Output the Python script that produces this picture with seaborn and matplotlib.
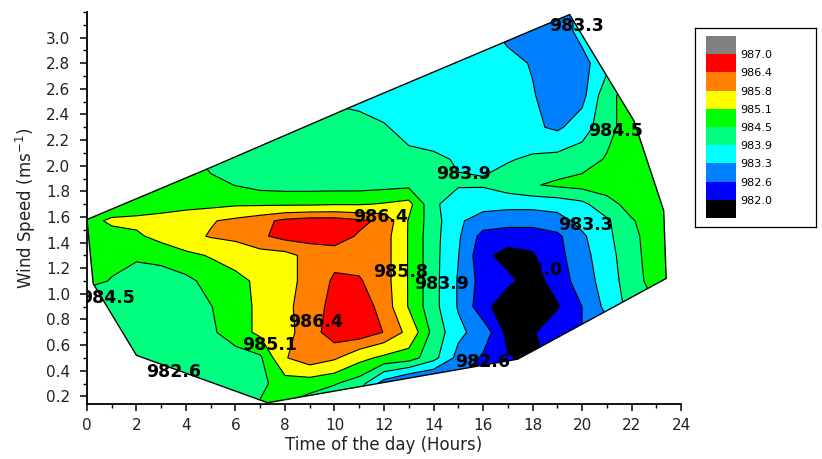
import numpy as np
import matplotlib
matplotlib.use("Agg")
import matplotlib.pyplot as plt
from matplotlib.colors import ListedColormap, BoundaryNorm
from matplotlib.patches import Polygon
from matplotlib.cm import ScalarMappable
from matplotlib.ticker import MultipleLocator
import seaborn as sns

# ---------------- data ----------------
hours = [0, 1, 2, 3, 4, 5, 6, 7, 8, 9, 10, 11, 12, 13, 14, 15, 16, 17, 18, 19, 20, 21, 22, 23, 24]
wind_rows = [0.1, 0.3, 0.5, 0.7, 0.9, 1.1, 1.3, 1.45, 1.57, 1.7, 1.85, 2.05, 2.3, 2.55, 2.8, 3.05, 3.3]

# pressure (hPa) along each wind-speed row, one value per hour
p_w010 = [984.2, 984.2, 984.2, 984.2, 984.2, 984.2, 984.3, 984.6, 984.4, 984.1, 983.8, 983.3, 982.9, 982.7, 982.6, 982.6, 982.6, 982.6, 982.6, 982.6, 982.6, 982.6, 982.6, 982.6, 982.6]
p_w030 = [984.2, 984.2, 984.2, 984.2, 984.2, 984.2, 984.2, 984.35, 984.8, 984.75, 984.55, 984.2, 983.0, 982.4, 982.3, 982.5, 982.3, 982.1, 982.0, 982.2, 982.6, 982.6, 982.6, 982.6, 982.6]
p_w050 = [984.2, 984.2, 984.2, 984.2, 984.2, 984.2, 984.25, 984.4, 985.75, 986.2, 985.9, 985.3, 984.95, 984.8, 984.1, 983.1, 982.5, 982.05, 981.85, 982.2, 982.5, 983.0, 983.5, 984.0, 984.5]
p_w070 = [984.2, 984.2, 984.2, 984.2, 984.25, 984.4, 984.8, 985.25, 985.6, 986.1, 986.75, 986.8, 986.38, 985.6, 984.3, 983.45, 983.0, 981.8, 981.95, 982.3, 982.6, 983.0, 983.5, 984.0, 984.5]
p_w090 = [984.2, 984.2, 984.2, 984.2, 984.25, 984.48, 984.8, 985.25, 985.65, 986.1, 986.6, 986.7, 986.2, 985.05, 984.1, 983.25, 982.15, 981.7, 981.7, 981.95, 982.6, 983.5, 984.1, 984.5, 984.8]
p_w110 = [984.6, 984.48, 984.2, 984.2, 984.35, 984.7, 984.9, 985.25, 985.65, 985.95, 986.5, 986.45, 986.1, 985.05, 984.1, 983.25, 982.3, 982.1, 981.8, 982.2, 982.95, 983.6, 984.2, 984.8, 984.8]
p_w130 = [984.75, 984.6, 984.6, 984.7, 984.95, 985.15, 985.4, 985.55, 985.6, 986.0, 986.2, 986.2, 986.1, 985.05, 984.1, 983.32, 982.1, 981.85, 981.95, 982.35, 983.1, 983.65, 984.3, 984.8, 984.8]
p_w145 = [984.85, 984.9, 985.0, 985.3, 985.6, 985.85, 985.95, 986.3, 986.6, 986.65, 986.6, 986.35, 986.1, 985.05, 984.1, 983.4, 982.35, 982.2, 982.2, 982.45, 983.2, 983.75, 984.35, 984.8, 984.8]
p_w157 = [984.9, 985.2, 985.25, 985.35, 985.55, 985.75, 985.95, 986.2, 986.55, 986.7, 986.7, 986.5, 986.3, 985.05, 984.15, 983.4, 983.0, 982.9, 982.9, 983.05, 983.5, 983.8, 984.45, 984.8, 984.8]
p_w170 = [984.7, 984.7, 984.75, 984.8, 984.85, 984.9, 985.0, 985.0, 985.0, 985.0, 985.05, 985.05, 985.15, 985.3, 984.0, 983.6, 983.55, 983.5, 983.5, 983.55, 983.75, 984.3, 984.7, 984.8, 984.8]
p_w185 = [984.8, 984.8, 984.8, 984.8, 984.8, 984.7, 984.48, 984.3, 984.25, 984.25, 984.25, 984.25, 984.3, 984.35, 984.1, 983.95, 983.95, 984.2, 984.45, 984.6, 984.7, 984.75, 984.8, 984.8, 984.8]
p_w205 = [984.8, 984.8, 984.8, 984.8, 984.8, 984.25, 984.2, 984.2, 984.2, 984.2, 984.15, 984.1, 984.1, 984.05, 984.0, 983.85, 983.8, 983.85, 984.0, 984.1, 984.25, 984.55, 984.8, 984.8, 984.8]
p_w230 = [984.2, 984.2, 984.2, 984.2, 984.2, 984.2, 984.2, 984.2, 984.2, 984.2, 984.1, 984.0, 983.95, 983.7, 983.6, 983.6, 983.55, 983.5, 983.4, 983.2, 983.6, 984.3, 984.8, 984.8, 984.8]
p_w255 = [984.2, 984.2, 984.2, 984.2, 984.2, 984.2, 984.2, 984.2, 984.2, 984.2, 983.8, 983.8, 983.6, 983.6, 983.6, 983.6, 983.6, 983.6, 983.35, 982.95, 983.1, 984.3, 984.8, 984.8, 984.8]
p_w280 = [983.6, 983.6, 983.6, 983.6, 983.6, 983.6, 983.6, 983.6, 983.6, 983.6, 983.6, 983.6, 983.6, 983.6, 983.6, 983.6, 983.55, 983.5, 983.25, 982.9, 983.1, 983.7, 984.2, 984.6, 984.8]
p_w305 = [983.6, 983.6, 983.6, 983.6, 983.6, 983.6, 983.6, 983.6, 983.6, 983.6, 983.6, 983.6, 983.6, 983.6, 983.6, 983.6, 983.5, 983.1, 982.9, 982.95, 983.5, 983.9, 984.3, 984.6, 984.8]
p_w330 = [983.6, 983.6, 983.6, 983.6, 983.6, 983.6, 983.6, 983.6, 983.6, 983.6, 983.6, 983.6, 983.6, 983.6, 983.6, 983.6, 983.5, 983.1, 982.9, 982.95, 983.5, 983.9, 984.3, 984.6, 984.8]

# outline of the measured domain (hour, wind speed)
hull_hours = [0.0, 4.8, 10.8, 19.5, 22.1, 23.3, 23.4, 17.4, 7.3, 2.0, 0.25]
hull_wind = [1.58, 1.97, 2.47, 3.18, 2.35, 1.65, 1.12, 0.49, 0.15, 0.52, 1.08]

# contour levels and colours
level_bounds = [980.0, 982.0, 982.6, 983.3, 983.9, 984.5, 985.1, 985.8, 986.4, 987.0, 988.0]
level_colors = ["#000000", "#0000FF", "#0080FF", "#00FFFF", "#00FF80",
                "#00FF00", "#FFFF00", "#FF8000", "#FF0000", "#808080"]
legend_bounds = [981.4, 982.0, 982.6, 983.3, 983.9, 984.5, 985.1, 985.8, 986.4, 987.0, 987.6]
legend_ticks = [982.0, 982.6, 983.3, 983.9, 984.5, 985.1, 985.8, 986.4, 987.0]

# contour value labels shown on the map
label_texts = ["983.3", "984.5", "983.9", "986.4", "983.3", "985.8", "982.0",
               "983.9", "984.5", "986.4", "985.1", "982.6", "982.6"]

# ---------------- layout ----------------
label_xy = [(19.76, 3.09), (21.36, 2.27), (15.21, 1.935), (11.87, 1.60), (20.15, 1.535),
            (12.67, 1.17), (18.1, 1.185), (14.33, 1.08), (0.83, 0.97), (9.25, 0.78),
            (7.39, 0.60), (15.98, 0.47), (3.52, 0.39)]

sns.set_theme(style="ticks")
plt.rcParams["font.family"] = ["DejaVu Sans"]

fig = plt.figure(figsize=(8.22, 4.59), dpi=100)
fig.patch.set_facecolor("white")
ax = fig.add_axes([0.1058, 0.1198, 0.7227, 0.8541])
ax.set_facecolor("white")

Z = np.array([p_w010, p_w030, p_w050, p_w070, p_w090, p_w110, p_w130, p_w145, p_w157,
              p_w170, p_w185, p_w205, p_w230, p_w255, p_w280, p_w305, p_w330])
X, Y = np.meshgrid(hours, wind_rows)

hull = Polygon(np.column_stack([hull_hours, hull_wind]), closed=True,
               facecolor="none", edgecolor="black", lw=1.0, zorder=4)
ax.add_patch(hull)

cf = ax.contourf(X, Y, Z, levels=level_bounds, colors=level_colors, zorder=1, antialiased=True)
cf.set_clip_path(hull)
cl = ax.contour(X, Y, Z, levels=level_bounds[1:-1], colors="black", linewidths=0.8, zorder=2)
cl.set_clip_path(hull)

for txt, (hx, wy) in zip(label_texts, label_xy):
    ax.text(hx, wy, txt, ha="center", va="center", fontsize=12.5, fontweight="bold",
            color="black", zorder=5, clip_on=True)

ax.set_xlim(0, 24)
ax.set_ylim(0.14, 3.2)
ax.xaxis.set_major_locator(MultipleLocator(2))
ax.xaxis.set_minor_locator(MultipleLocator(1))
ax.set_yticks(np.arange(0.2, 3.01, 0.2))
ax.yaxis.set_minor_locator(MultipleLocator(0.1))
ax.set_yticklabels([f"{v:.1f}" for v in np.arange(0.2, 3.01, 0.2)])
sns.despine(ax=ax)
for s in ["left", "bottom"]:
    ax.spines[s].set_color("black")
    ax.spines[s].set_linewidth(1.3)
ax.tick_params(axis="both", which="major", direction="out", length=5, width=1.1,
               color="black", labelsize=11, labelcolor="#222222")
ax.tick_params(axis="both", which="minor", direction="out", length=3, width=1.0, color="black")
ax.tick_params(axis="x", which="major", pad=5)
ax.tick_params(axis="y", which="major", pad=7)
ax.set_xlabel("Time of the day (Hours)", fontsize=12, color="#222222", labelpad=2)
ax.set_ylabel("Wind Speed (ms$^{-1}$)", fontsize=12, color="#222222", labelpad=6)

# legend box
frame_ax = fig.add_axes([0.8455, 0.5054, 0.1472, 0.4336])
frame_ax.set_xticks([])
frame_ax.set_yticks([])
frame_ax.set_facecolor("white")
for s in frame_ax.spines.values():
    s.set_visible(True)
    s.set_color("black")
    s.set_linewidth(0.9)

cax = fig.add_axes([0.8589, 0.525, 0.0365, 0.3965])
cmap = ListedColormap(level_colors)
norm = BoundaryNorm(legend_bounds, cmap.N)
cb = fig.colorbar(ScalarMappable(norm=norm, cmap=cmap), cax=cax, boundaries=legend_bounds,
                  spacing="uniform", ticks=legend_ticks)
cb.outline.set_visible(False)
cb.ax.minorticks_off()
cb.ax.tick_params(which="both", length=0, pad=3, labelsize=8, labelcolor="black")
cb.ax.set_yticklabels([f"{v:.1f}" for v in legend_ticks])

fig.savefig("out.png", dpi=100, facecolor="white")
